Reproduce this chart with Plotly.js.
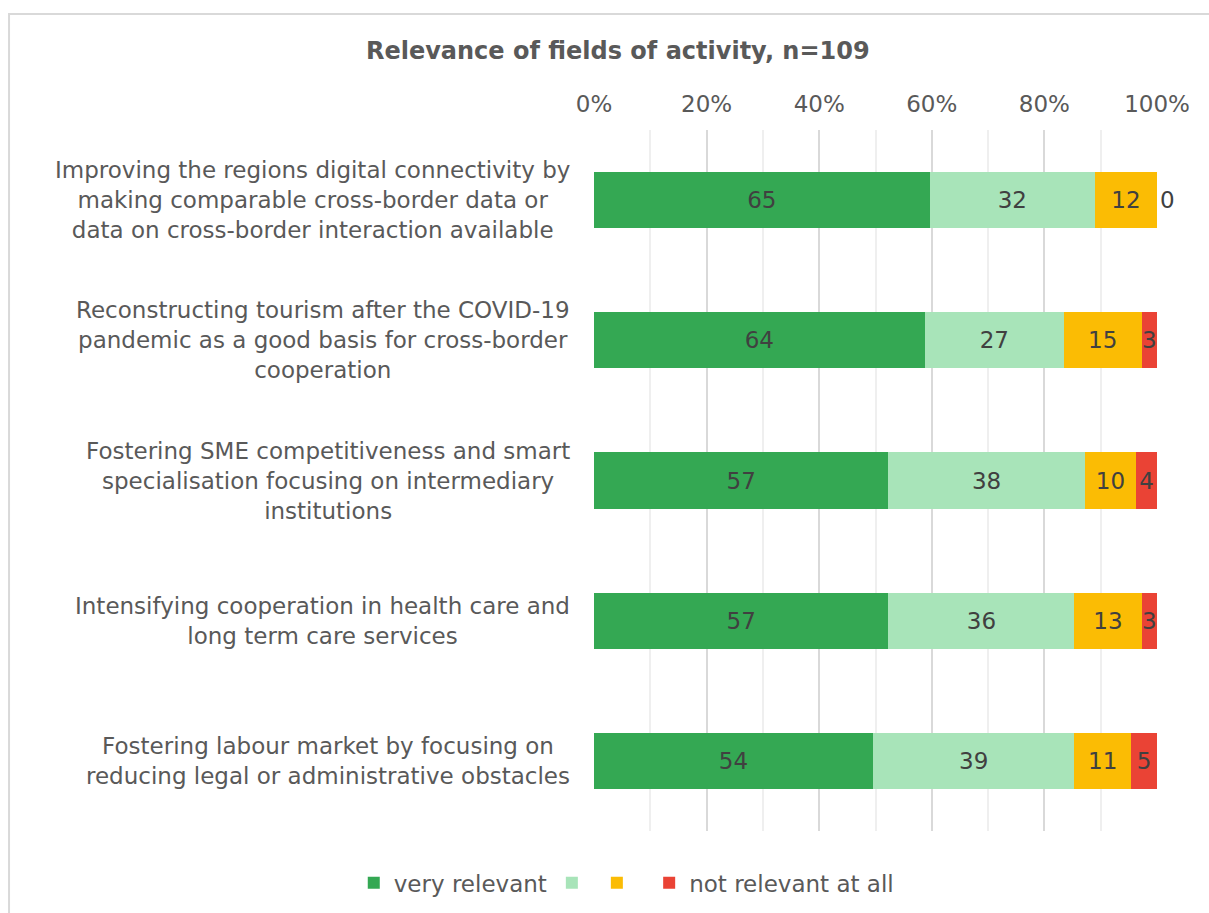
<!DOCTYPE html>
<html>
<head>
<meta charset="utf-8">
<script src="https://cdn.plot.ly/plotly-3.0.1.min.js"></script>
<style>html,body{margin:0;padding:0;background:#fff;}#chart{width:1209px;height:913px;}</style>
</head>
<body>
<div id="chart"></div>
<script>
const categories = [
  "Improving the regions digital connectivity by<br>making comparable cross-border data or<br>data on cross-border interaction available",
  "Reconstructing tourism after the COVID-19<br>pandemic as a good basis for cross-border<br>cooperation",
  "Fostering SME competitiveness and smart<br>specialisation focusing on intermediary<br>institutions",
  "Intensifying cooperation in health care and<br>long term care services",
  "Fostering labour market by focusing on<br>reducing legal or administrative obstacles"
];
const seriesNames = ["very relevant", "", " ", "not relevant at all"];
const veryRelevant = [65, 64, 57, 57, 54];
const relevant = [32, 27, 38, 36, 39];
const lessRelevant = [12, 15, 10, 13, 11];
const notRelevant = [0, 3, 4, 3, 5];
const tickVals = [0, 20, 40, 60, 80, 100];
const tickLabels = ["0%", "20%", "40%", "60%", "80%", "100%"];
const colors = ["#34a853", "#a8e4b9", "#fbbc04", "#ea4335"];

const allSeries = [veryRelevant, relevant, lessRelevant, notRelevant];
const font = "DejaVu Sans, Verdana, sans-serif";

const traces = allSeries.map((vals, i) => ({
  type: "bar",
  orientation: "h",
  name: seriesNames[i],
  y: categories,
  x: vals,
  text: vals.map(String),
  texttemplate: "%{text}",
  textposition: vals.map(v => v === 0 ? "outside" : "inside"),
  insidetextanchor: "middle",
  textangle: 0,
  constraintext: "none",
  cliponaxis: false,
  textfont: {family: font, size: 23, color: "#404040"},
  insidetextfont: {family: font, size: 23, color: "#404040"},
  outsidetextfont: {family: font, size: 23, color: "#404040"},
  marker: {color: colors[i], line: {width: 0}},
  width: 0.4,
  hoverinfo: "skip"
}));

const annotations = categories.map(c => ({
  xref: "paper", yref: "y",
  x: 0, y: c,
  xanchor: "right", yanchor: "middle",
  xshift: -22,
  text: c,
  align: "center",
  showarrow: false,
  font: {family: font, size: 23, color: "#595959"}
}));

const layout = {
  width: 1209, height: 913,
  margin: {l: 594, r: 52, t: 130, b: 82},
  paper_bgcolor: "#ffffff",
  plot_bgcolor: "#ffffff",
  barmode: "stack",
  barnorm: "percent",
  bargap: 0.6,
  title: {
    text: "<b>Relevance of fields of activity, n=109</b>",
    font: {family: font, size: 24, color: "#595959"},
    xref: "container", x: 0.511, xanchor: "center",
    yref: "container", y: 0.945, yanchor: "middle"
  },
  xaxis: {
    side: "top",
    range: [0, 100.0005],
    tickmode: "array",
    tickvals: tickVals,
    ticktext: tickLabels,
    tickfont: {family: font, size: 23, color: "#595959"},
    ticklabelstandoff: 12,
    showgrid: true,
    gridcolor: "#d9d9d9",
    gridwidth: 2,
    zeroline: false,
    showline: false,
    ticks: "",
    fixedrange: true,
    minor: {dtick: 10, tick0: 0, showgrid: true, gridcolor: "#efefef", gridwidth: 2, ticks: ""}
  },
  yaxis: {
    autorange: "reversed",
    showticklabels: false,
    showgrid: false,
    zeroline: false,
    ticks: "",
    fixedrange: true
  },
  showlegend: true,
  legend: {
    orientation: "h",
    xref: "container", x: 0.518, xanchor: "center",
    yref: "container", y: 0.033, yanchor: "middle",
    font: {family: font, size: 23, color: "#595959"},
    traceorder: "normal",
    itemwidth: 30
  },
  annotations: annotations,
  shapes: [{
    type: "rect", xref: "paper", yref: "paper",
    x0: -1.039, x1: 1.12, y0: -0.14, y1: 1.1655,
    line: {color: "#d9d9d9", width: 2},
    fillcolor: "rgba(0,0,0,0)",
    layer: "below"
  }]
};

Plotly.newPlot("chart", traces, layout, {displayModeBar: false, staticPlot: true});
</script>
</body>
</html>
